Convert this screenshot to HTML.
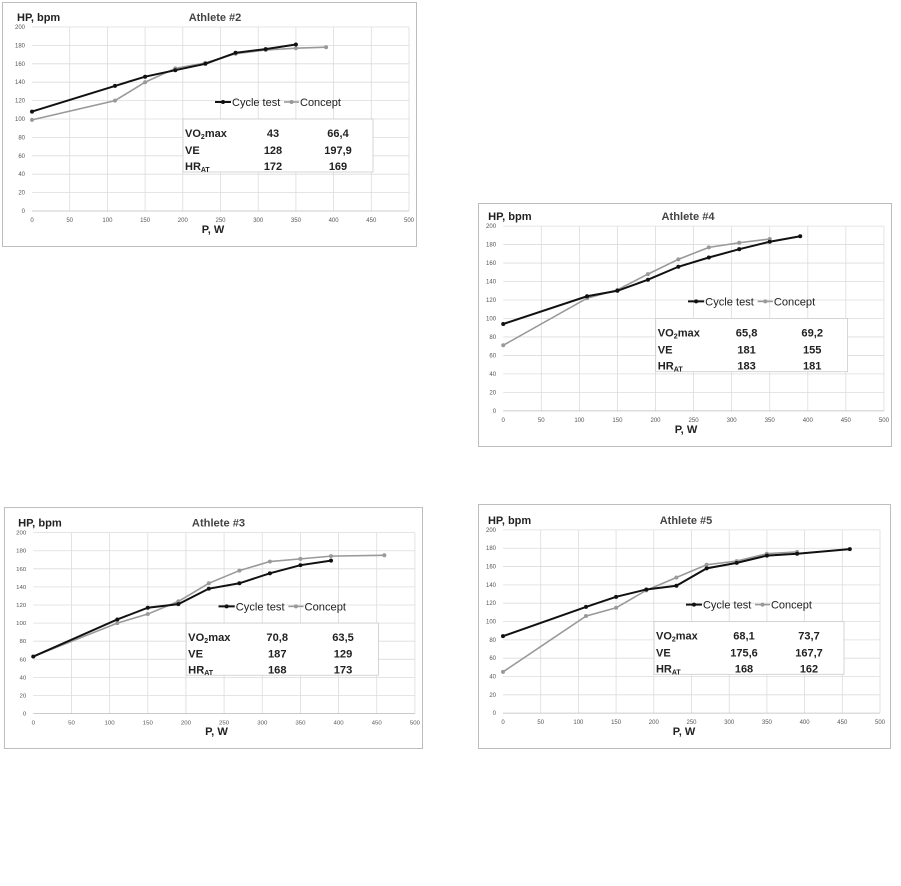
<!DOCTYPE html>
<html><head><meta charset="utf-8"><style>
html,body{margin:0;padding:0;background:#fff;}
svg{display:block;font-family:"Liberation Sans",Arial,sans-serif;}
.g{stroke:#dcdcdc;stroke-width:0.8;}
.t{font-size:6px;fill:#555;}
.b{font-weight:bold;fill:#222;}
.cy{fill:none;stroke:#111;stroke-width:2;}
.co{fill:none;stroke:#999;stroke-width:1.6;}
.fr{fill:none;stroke:#bdbdbd;stroke-width:1;}
</style></head><body>
<svg width="901" height="886" viewBox="0 0 901 886" xmlns="http://www.w3.org/2000/svg">
<defs>
<g id="base">
<g class="g">
<line x1="25" y1="23" x2="402" y2="23"/><line x1="25" y1="41.4" x2="402" y2="41.4"/><line x1="25" y1="59.8" x2="402" y2="59.8"/><line x1="25" y1="78.2" x2="402" y2="78.2"/><line x1="25" y1="96.6" x2="402" y2="96.6"/><line x1="25" y1="115" x2="402" y2="115"/><line x1="25" y1="133.4" x2="402" y2="133.4"/><line x1="25" y1="151.8" x2="402" y2="151.8"/><line x1="25" y1="170.2" x2="402" y2="170.2"/><line x1="25" y1="188.6" x2="402" y2="188.6"/>
<line x1="62.7" y1="23" x2="62.7" y2="207"/><line x1="100.4" y1="23" x2="100.4" y2="207"/><line x1="138.1" y1="23" x2="138.1" y2="207"/><line x1="175.8" y1="23" x2="175.8" y2="207"/><line x1="213.5" y1="23" x2="213.5" y2="207"/><line x1="251.2" y1="23" x2="251.2" y2="207"/><line x1="288.9" y1="23" x2="288.9" y2="207"/><line x1="326.6" y1="23" x2="326.6" y2="207"/><line x1="364.3" y1="23" x2="364.3" y2="207"/><line x1="402" y1="23" x2="402" y2="207"/>
</g>
<line x1="25" y1="207" x2="402" y2="207" stroke="#bbb" stroke-width="0.8"/>
<g class="t" text-anchor="end">
<text x="18" y="209">0</text><text x="18" y="190.6">20</text><text x="18" y="172.2">40</text><text x="18" y="153.8">60</text><text x="18" y="135.4">80</text><text x="18" y="117">100</text><text x="18" y="98.6">120</text><text x="18" y="80.2">140</text><text x="18" y="61.8">160</text><text x="18" y="43.4">180</text><text x="18" y="25">200</text>
</g>
<g class="t" text-anchor="middle">
<text x="25" y="218">0</text><text x="62.7" y="218">50</text><text x="100.4" y="218">100</text><text x="138.1" y="218">150</text><text x="175.8" y="218">200</text><text x="213.5" y="218">250</text><text x="251.2" y="218">300</text><text x="288.9" y="218">350</text><text x="326.6" y="218">400</text><text x="364.3" y="218">450</text><text x="402" y="218">500</text>
</g>
<text x="10" y="17" class="b" font-size="11">HP, bpm</text>
<text x="206" y="229" class="b" font-size="11" text-anchor="middle">P, W</text>
<line x1="208" y1="98" x2="224" y2="98" stroke="#111" stroke-width="2"/><circle cx="216" cy="98" r="2" fill="#111"/>
<text x="225" y="102" font-size="11" fill="#222">Cycle test</text>
<line x1="277" y1="98" x2="292" y2="98" stroke="#999" stroke-width="1.6"/><circle cx="284.5" cy="98" r="2" fill="#999"/>
<text x="293" y="102" font-size="11" fill="#222">Concept</text>
<rect x="176" y="115" width="190" height="53" fill="#fff" stroke="#ccc" stroke-width="0.8"/>
</g>
</defs>

<!-- Athlete 2 -->
<svg x="7" y="4" width="410" height="243" viewBox="0 0 410 243" preserveAspectRatio="none" overflow="visible">
<rect class="fr" x="-4.5" y="-1.5" width="414" height="244"/>
<use href="#base"/>
<text x="208" y="17" font-size="11" fill="#444" font-weight="bold" text-anchor="middle">Athlete #2</text>
<polyline class="co" points="25,115.9 108,96.6 138.1,78.2 168.3,64.4 198.4,58.9 228.6,49.7 258.7,46 288.9,44.2 319.1,43.2"/>
<g fill="#999"><circle cx="25" cy="115.9" r="2"/><circle cx="108" cy="96.6" r="2"/><circle cx="138.1" cy="78.2" r="2"/><circle cx="168.3" cy="64.4" r="2"/><circle cx="198.4" cy="58.9" r="2"/><circle cx="228.6" cy="49.7" r="2"/><circle cx="258.7" cy="46" r="2"/><circle cx="288.9" cy="44.2" r="2"/><circle cx="319.1" cy="43.2" r="2"/></g>
<polyline class="cy" points="25,107.6 108,81.9 138.1,72.7 168.3,66.2 198.4,59.8 228.6,48.8 258.7,45.1 288.9,40.5"/>
<g fill="#111"><circle cx="25" cy="107.6" r="2"/><circle cx="108" cy="81.9" r="2"/><circle cx="138.1" cy="72.7" r="2"/><circle cx="168.3" cy="66.2" r="2"/><circle cx="198.4" cy="59.8" r="2"/><circle cx="228.6" cy="48.8" r="2"/><circle cx="258.7" cy="45.1" r="2"/><circle cx="288.9" cy="40.5" r="2"/></g>
<g class="b" font-size="11"><text x="178" y="133">VO<tspan font-size="7" dy="2">2</tspan><tspan dy="-2">max</tspan></text><text x="178" y="150">VE</text><text x="178" y="166">HR<tspan font-size="7" dy="2">AT</tspan></text></g>
<g class="b" font-size="11" text-anchor="middle"><text x="266" y="133">43</text><text x="266" y="150">128</text><text x="266" y="166">172</text><text x="331" y="133">66,4</text><text x="331" y="150">197,9</text><text x="331" y="166">169</text></g>
</svg>

<!-- Athlete 4 -->
<svg x="478" y="203" width="414" height="244" viewBox="0 0 410 243" preserveAspectRatio="none" overflow="visible">
<rect class="fr" x="0.5" y="0.5" width="409" height="242"/>
<use href="#base"/>
<text x="208" y="17" font-size="11" fill="#444" font-weight="bold" text-anchor="middle">Athlete #4</text>
<polyline class="co" points="25,141.7 108,94.8 138.1,86.5 168.3,70.8 198.4,56.1 228.6,44.2 258.7,39.6 288.9,35.9"/>
<g fill="#999"><circle cx="25" cy="141.7" r="2"/><circle cx="108" cy="94.8" r="2"/><circle cx="138.1" cy="86.5" r="2"/><circle cx="168.3" cy="70.8" r="2"/><circle cx="198.4" cy="56.1" r="2"/><circle cx="228.6" cy="44.2" r="2"/><circle cx="258.7" cy="39.6" r="2"/><circle cx="288.9" cy="35.9" r="2"/></g>
<polyline class="cy" points="25,120.5 108,92.9 138.1,87.4 168.3,76.4 198.4,63.5 228.6,54.3 258.7,46 288.9,38.6 319.1,33.1"/>
<g fill="#111"><circle cx="25" cy="120.5" r="2"/><circle cx="108" cy="92.9" r="2"/><circle cx="138.1" cy="87.4" r="2"/><circle cx="168.3" cy="76.4" r="2"/><circle cx="198.4" cy="63.5" r="2"/><circle cx="228.6" cy="54.3" r="2"/><circle cx="258.7" cy="46" r="2"/><circle cx="288.9" cy="38.6" r="2"/><circle cx="319.1" cy="33.1" r="2"/></g>
<g class="b" font-size="11"><text x="178" y="133">VO<tspan font-size="7" dy="2">2</tspan><tspan dy="-2">max</tspan></text><text x="178" y="150">VE</text><text x="178" y="166">HR<tspan font-size="7" dy="2">AT</tspan></text></g>
<g class="b" font-size="11" text-anchor="middle"><text x="266" y="133">65,8</text><text x="266" y="150">181</text><text x="266" y="166">183</text><text x="331" y="133">69,2</text><text x="331" y="150">155</text><text x="331" y="166">181</text></g>
</svg>

<!-- Athlete 3 -->
<svg x="8" y="510" width="415" height="239" viewBox="0 0 410 243" preserveAspectRatio="none" overflow="visible">
<rect class="fr" x="-3.5" y="-2.5" width="413" height="245"/>
<use href="#base"/>
<text x="208" y="17" font-size="11" fill="#444" font-weight="bold" text-anchor="middle">Athlete #3</text>
<polyline class="co" points="25,149 108,115 138.1,105.8 168.3,92.9 198.4,74.5 228.6,61.6 258.7,52.4 288.9,49.7 319.1,46.9 371.8,46"/>
<g fill="#999"><circle cx="25" cy="149" r="2"/><circle cx="108" cy="115" r="2"/><circle cx="138.1" cy="105.8" r="2"/><circle cx="168.3" cy="92.9" r="2"/><circle cx="198.4" cy="74.5" r="2"/><circle cx="228.6" cy="61.6" r="2"/><circle cx="258.7" cy="52.4" r="2"/><circle cx="288.9" cy="49.7" r="2"/><circle cx="319.1" cy="46.9" r="2"/><circle cx="371.8" cy="46" r="2"/></g>
<polyline class="cy" points="25,149 108,111.3 138.1,99.4 168.3,95.7 198.4,80 228.6,74.5 258.7,64.4 288.9,56.1 319.1,51.5"/>
<g fill="#111"><circle cx="25" cy="149" r="2"/><circle cx="108" cy="111.3" r="2"/><circle cx="138.1" cy="99.4" r="2"/><circle cx="168.3" cy="95.7" r="2"/><circle cx="198.4" cy="80" r="2"/><circle cx="228.6" cy="74.5" r="2"/><circle cx="258.7" cy="64.4" r="2"/><circle cx="288.9" cy="56.1" r="2"/><circle cx="319.1" cy="51.5" r="2"/></g>
<g class="b" font-size="11"><text x="178" y="133">VO<tspan font-size="7" dy="2">2</tspan><tspan dy="-2">max</tspan></text><text x="178" y="150">VE</text><text x="178" y="166">HR<tspan font-size="7" dy="2">AT</tspan></text></g>
<g class="b" font-size="11" text-anchor="middle"><text x="266" y="133">70,8</text><text x="266" y="150">187</text><text x="266" y="166">168</text><text x="331" y="133">63,5</text><text x="331" y="150">129</text><text x="331" y="166">173</text></g>
</svg>

<!-- Athlete 5 -->
<svg x="478" y="507" width="410" height="242" viewBox="0 0 410 243" preserveAspectRatio="none" overflow="visible">
<rect class="fr" x="0.5" y="-2.5" width="412" height="245"/>
<use href="#base"/>
<text x="208" y="17" font-size="11" fill="#444" font-weight="bold" text-anchor="middle">Athlete #5</text>
<polyline class="co" points="25,165.6 108,109.5 138.1,101.2 168.3,83.7 198.4,70.8 228.6,58 258.7,54.3 288.9,46.9 319.1,45.1"/>
<g fill="#999"><circle cx="25" cy="165.6" r="2"/><circle cx="108" cy="109.5" r="2"/><circle cx="138.1" cy="101.2" r="2"/><circle cx="168.3" cy="83.7" r="2"/><circle cx="198.4" cy="70.8" r="2"/><circle cx="228.6" cy="58" r="2"/><circle cx="258.7" cy="54.3" r="2"/><circle cx="288.9" cy="46.9" r="2"/><circle cx="319.1" cy="45.1" r="2"/></g>
<polyline class="cy" points="25,129.7 108,100.3 138.1,90.2 168.3,82.8 198.4,79.1 228.6,61.6 258.7,56.1 288.9,48.8 319.1,46.9 371.8,42.3"/>
<g fill="#111"><circle cx="25" cy="129.7" r="2"/><circle cx="108" cy="100.3" r="2"/><circle cx="138.1" cy="90.2" r="2"/><circle cx="168.3" cy="82.8" r="2"/><circle cx="198.4" cy="79.1" r="2"/><circle cx="228.6" cy="61.6" r="2"/><circle cx="258.7" cy="56.1" r="2"/><circle cx="288.9" cy="48.8" r="2"/><circle cx="319.1" cy="46.9" r="2"/><circle cx="371.8" cy="42.3" r="2"/></g>
<g class="b" font-size="11"><text x="178" y="133">VO<tspan font-size="7" dy="2">2</tspan><tspan dy="-2">max</tspan></text><text x="178" y="150">VE</text><text x="178" y="166">HR<tspan font-size="7" dy="2">AT</tspan></text></g>
<g class="b" font-size="11" text-anchor="middle"><text x="266" y="133">68,1</text><text x="266" y="150">175,6</text><text x="266" y="166">168</text><text x="331" y="133">73,7</text><text x="331" y="150">167,7</text><text x="331" y="166">162</text></g>
</svg>
</svg>
</body></html>
